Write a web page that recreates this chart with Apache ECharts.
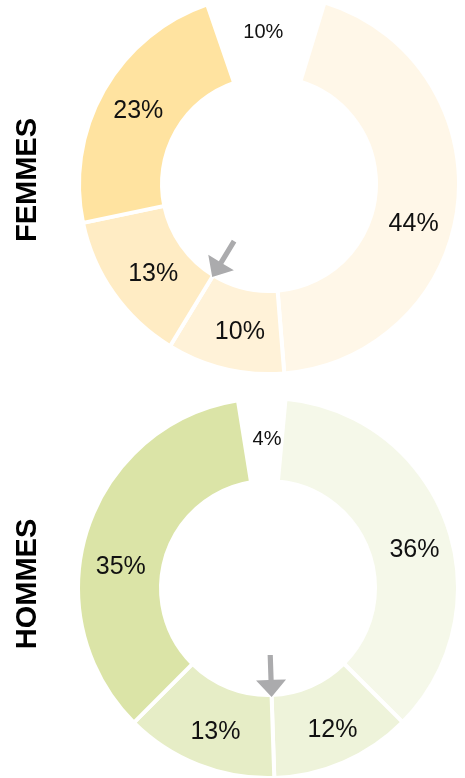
<!DOCTYPE html>
<html>
<head>
<meta charset="utf-8">
<script src="https://cdn.jsdelivr.net/npm/echarts@6/dist/echarts.min.js"></script>
<style>
  html, body { margin: 0; padding: 0; background: #ffffff; }
  #chart { width: 465px; height: 778px; }
</style>
</head>
<body>
<div id="chart"></div>
<script>
// Segment keys (last one is the blank remainder at the top of each ring)
const segmentKeys = ['s1', 's2', 's3', 's4', 'reste'];

const femmesValues = [44, 10, 13, 23, 10];
const hommesValues = [36, 12, 13, 35, 4];

const femmesColors = ['#FFF7E8', '#FFF2D8', '#FFECC4', '#FFE3A0', '#FFFFFF'];
const hommesColors = ['#F5F8E9', '#EEF3DA', '#E6EDC6', '#DBE4A7', '#FFFFFF'];

// Ring geometry (the white border eats half its width on each edge)
const INNER = 107, OUTER = 190, BORDER = 4;
const rings = [
  { title: 'FEMMES', values: femmesValues, colors: femmesColors, cx: 269, cy: 184, startCW: 17,
    nudges: [[-6, 24], [6, 1], [8, 3], [1, 2], [-3, 0]] },
  { title: 'HOMMES', values: hommesValues, colors: hommesColors, cx: 268, cy: 588, startCW: 5.3,
    nudges: [[4, 14], [4, 3], [3, 3], [-3, 26], [4, 3]] }
];
// Arrow points at the boundary after this many segments
const ARROW_AFTER = 2;

const chart = echarts.init(document.getElementById('chart'), null, { renderer: 'canvas' });

const series = rings.map(function (ring) {
  const last = ring.values.length - 1;
  return {
    type: 'pie',
    name: ring.title,
    center: [ring.cx, ring.cy],
    radius: [INNER, OUTER],
    startAngle: 90 - ring.startCW,
    clockwise: true,
    avoidLabelOverlap: false,
    emphasis: { disabled: true },
    labelLine: { show: false },
    itemStyle: { borderColor: '#ffffff', borderWidth: BORDER },
    label: {
      show: true,
      position: 'inside',
      color: '#111111',
      fontFamily: 'Helvetica, Arial, "Liberation Sans", sans-serif',
      fontSize: 25,
      formatter: function (p) { return p.value + '%'; }
    },
    labelLayout: function (p) {
      const n = ring.nudges[p.dataIndex];
      return { dx: n[0], dy: n[1] };
    },
    data: ring.values.map(function (v, i) {
      const item = { name: segmentKeys[i], value: v, itemStyle: { color: ring.colors[i] } };
      if (i === last) {
        item.itemStyle.borderWidth = 0;
        item.label = { fontSize: 20 };
      }
      return item;
    })
  };
});

// Grey arrows pointing to a segment boundary on the inner edge, plus vertical titles
const graphics = [];
rings.forEach(function (ring) {
  const total = ring.values.reduce(function (a, b) { return a + b; }, 0);
  let cum = 0;
  for (let i = 0; i < ARROW_AFTER; i++) cum += ring.values[i];
  const ang = (ring.startCW + cum / total * 360) * Math.PI / 180;
  const ux = Math.sin(ang), uy = -Math.cos(ang);   // outward radial direction
  const nx = -uy, ny = ux;
  const rTip = INNER + BORDER / 2;
  const tx = ring.cx + rTip * ux, ty = ring.cy + rTip * uy;
  const L = 42, hl = 17, hw = 15, sw = 2.6;
  const pt = function (a, b) { return [tx - ux * a + nx * b, ty - uy * a + ny * b]; };
  graphics.push({
    type: 'polygon',
    silent: true,
    z: 10,
    shape: { points: [pt(L, sw), pt(hl, sw), pt(hl, hw), [tx, ty], pt(hl, -hw), pt(hl, -sw), pt(L, -sw)] },
    style: { fill: '#ABABAD' }
  });
  graphics.push({
    type: 'text',
    x: 28,
    y: ring.cy - 4,
    rotation: Math.PI / 2,
    silent: true,
    style: {
      text: ring.title,
      fill: '#000000',
      font: 'bold 29px Helvetica, Arial, "Liberation Sans", sans-serif',
      align: 'center',
      verticalAlign: 'middle'
    }
  });
});

chart.setOption({
  animation: false,
  backgroundColor: '#ffffff',
  series: series,
  graphic: graphics
});
</script>
</body>
</html>
